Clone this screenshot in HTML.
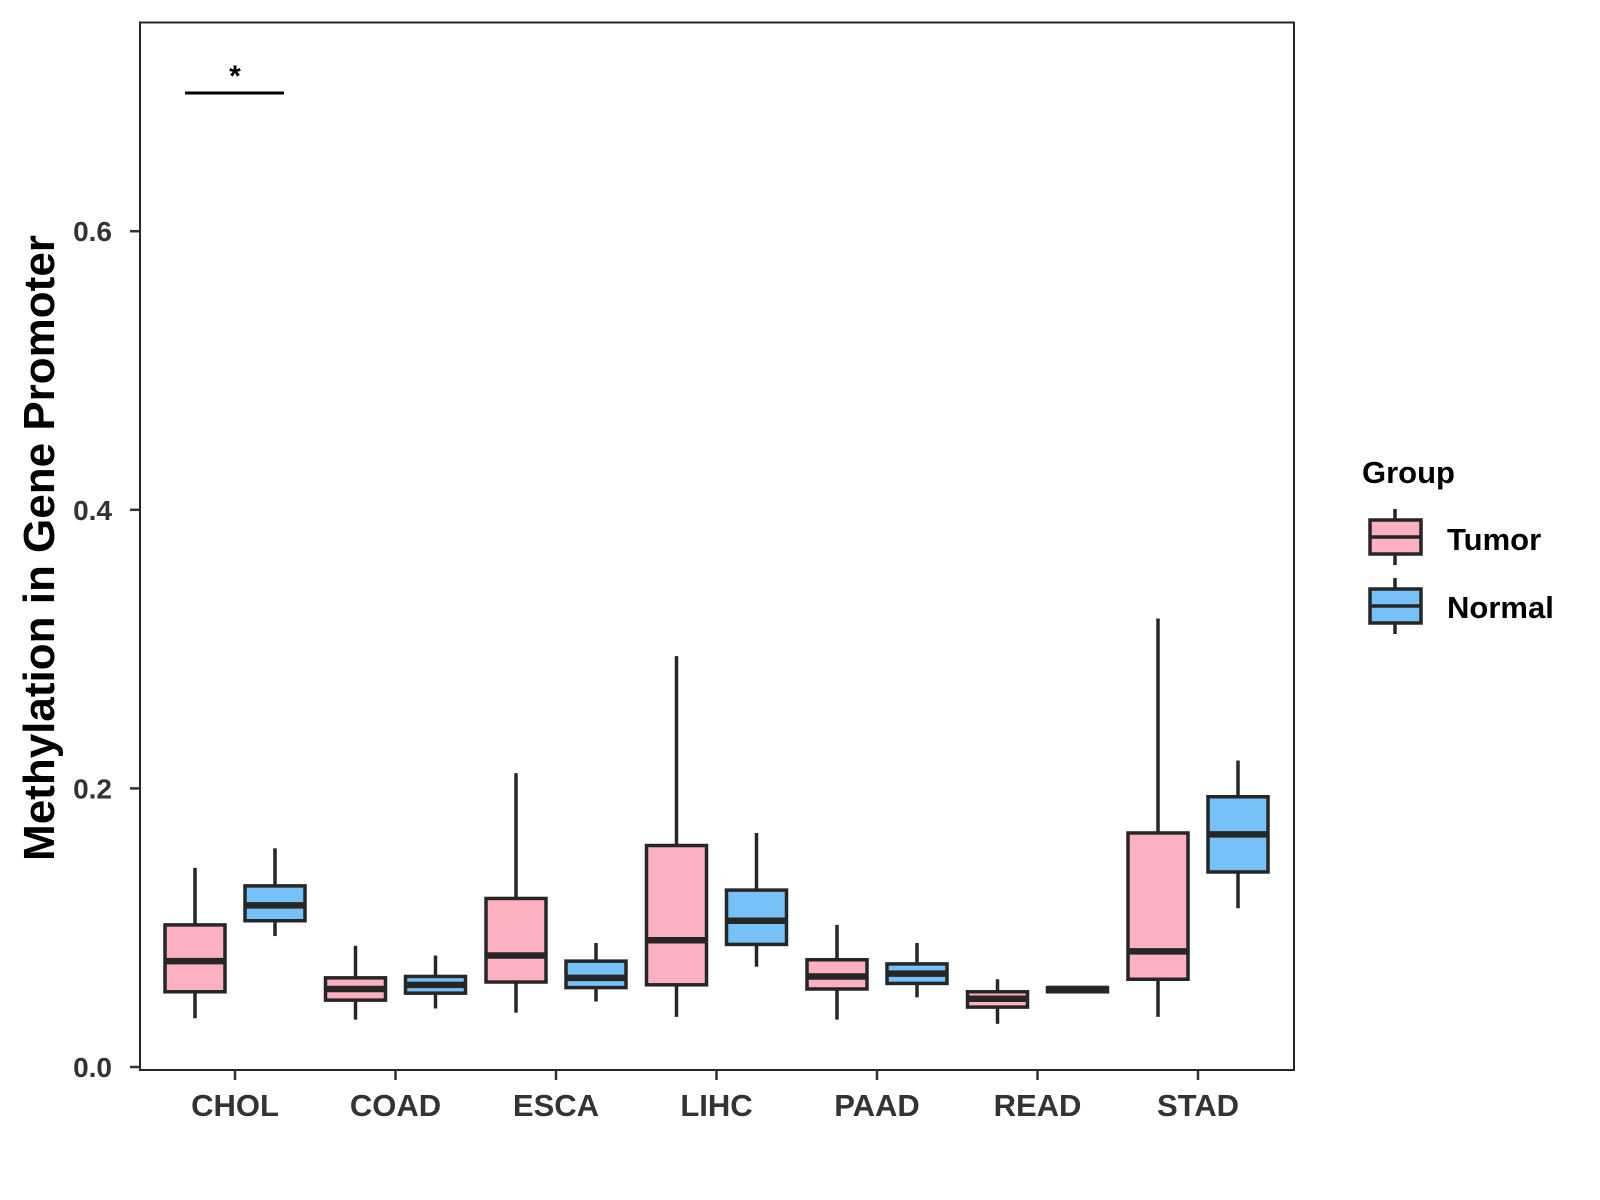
<!DOCTYPE html>
<html><head><meta charset="utf-8"><style>
body{margin:0;background:#fff}
svg{display:block;font-family:"Liberation Sans",Arial,sans-serif;font-weight:bold}
</style></head><body>
<svg id="chart" width="1600" height="1200" viewBox="0 0 1600 1200">
<rect x="140" y="22.5" width="1154" height="1047.5" fill="#fff" stroke="#262626" stroke-width="2"/>
<g id="yaxis"></g>
<g id="xaxis"></g>
<g id="boxes"></g>
<g>
<line x1="185" y1="93" x2="284" y2="93" stroke="#000" stroke-width="3"/>
<text x="235" y="86" font-size="30" text-anchor="middle" fill="#000">*</text>
</g>
<text transform="translate(54,548) rotate(-90)" font-size="44" text-anchor="middle" fill="#000">Methylation in Gene Promoter</text>
<g>
<text x="1362" y="483" font-size="31" fill="#000">Group</text>
<g>
<line x1="1395" y1="509" x2="1395" y2="565" stroke="#262626" stroke-width="3.5"/>
<rect x="1370" y="520" width="51" height="34" fill="#FDB0C0" stroke="#262626" stroke-width="3.5"/>
<line x1="1370" y1="537" x2="1421" y2="537" stroke="#262626" stroke-width="3.5"/>
<text x="1447" y="550" font-size="31" fill="#000">Tumor</text>
</g>
<g>
<line x1="1395" y1="578" x2="1395" y2="634" stroke="#262626" stroke-width="3.5"/>
<rect x="1370" y="589" width="51" height="34" fill="#75C1F8" stroke="#262626" stroke-width="3.5"/>
<line x1="1370" y1="606" x2="1421" y2="606" stroke="#262626" stroke-width="3.5"/>
<text x="1447" y="618" font-size="31" fill="#000">Normal</text>
</g>
</g>
</svg>
<script>
const categories=["CHOL","COAD","ESCA","LIHC","PAAD","READ","STAD"];
const yTicks=[0,0.2,0.4,0.6];
const yTickLabels=["0.0","0.2","0.4","0.6"];
// [lowWhisker, Q1, median, Q3, highWhisker]
const tumor=[[0.035,0.054,0.076,0.102,0.143],[0.034,0.048,0.056,0.064,0.087],[0.039,0.061,0.080,0.121,0.211],[0.036,0.059,0.091,0.159,0.295],[0.034,0.056,0.065,0.077,0.102],[0.031,0.043,0.049,0.054,0.063],[0.036,0.063,0.083,0.168,0.322]];
const normal=[[0.094,0.105,0.116,0.130,0.157],[0.042,0.053,0.059,0.065,0.080],[0.047,0.057,0.064,0.076,0.089],[0.072,0.088,0.105,0.127,0.168],[0.050,0.060,0.067,0.074,0.089],[0.053,0.054,0.056,0.057,0.058],[0.114,0.140,0.167,0.194,0.220]];
const NS="http://www.w3.org/2000/svg";
function y(v){return 1067-v*1393;}
function x(i){return 235+i*160.5;}
function mk(tag,attrs,parent){const e=document.createElementNS(NS,tag);for(const k in attrs)e.setAttribute(k,attrs[k]);parent.appendChild(e);return e;}
const ya=document.getElementById('yaxis'),xa=document.getElementById('xaxis'),bx=document.getElementById('boxes');
yTicks.forEach((t,i)=>{
  const l=mk('line',{x1:130,x2:140,y1:y(t),y2:y(t),stroke:'#333','stroke-width':2.5},ya);
  
  
  const tx=mk('text',{x:112,y:y(t)+10,'font-size':28,'text-anchor':'end',fill:'#333'},ya);
  tx.textContent=yTickLabels[i];
  
  
});
categories.forEach((c,i)=>{
  const l=mk('line',{x1:x(i),x2:x(i),y1:1070,y2:1080,stroke:'#333','stroke-width':2.5},xa);
  
  
  const tx=mk('text',{x:x(i),y:1116,'font-size':31,'text-anchor':'middle',fill:'#333'},xa);
  tx.textContent=c;
  
  
});
function drawBox(d,cx,fill,name){
  const g=mk('g',{},bx);
  
  
  const hw=30,s='#262626';
  mk('line',{x1:cx,x2:cx,y1:y(d[4]),y2:y(d[3]),stroke:s,'stroke-width':3.5},g);
  mk('line',{x1:cx,x2:cx,y1:y(d[1]),y2:y(d[0]),stroke:s,'stroke-width':3.5},g);
  mk('rect',{x:cx-hw,y:y(d[3]),width:2*hw,height:y(d[1])-y(d[3]),fill:fill,stroke:s,'stroke-width':3.5},g);
  mk('line',{x1:cx-hw,x2:cx+hw,y1:y(d[2]),y2:y(d[2]),stroke:s,'stroke-width':6.5},g);
}
categories.forEach((c,i)=>{
  drawBox(tumor[i],x(i)-40,'#FDB0C0','box-'+c.toLowerCase()+'-tumor');
  drawBox(normal[i],x(i)+40,'#75C1F8','box-'+c.toLowerCase()+'-normal');
});
</script>
</body></html>
